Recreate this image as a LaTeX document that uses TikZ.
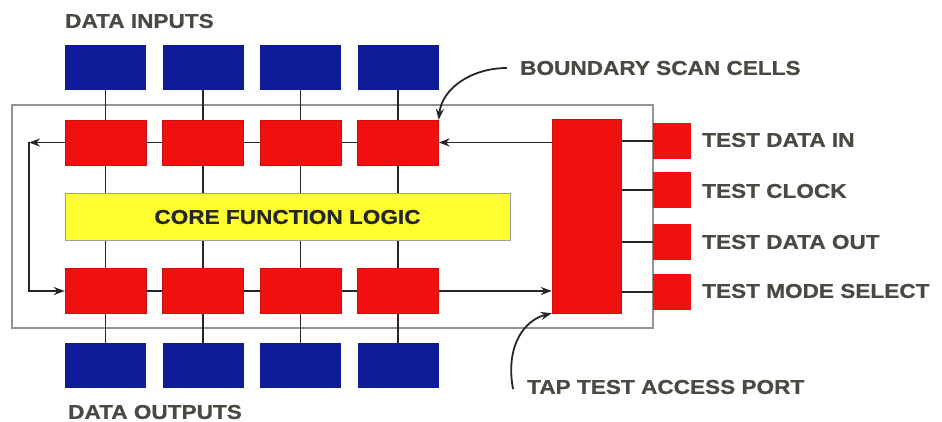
\documentclass[tikz,border=0pt]{standalone}
\usepackage{fontspec}
\newfontfamily\labfont[FakeStretch=1.13,FakeBold=0.7]{Liberation Sans}
\usetikzlibrary{arrows.meta}
\definecolor{navy}{HTML}{0E1C9A}
\definecolor{cellred}{HTML}{F01010}
\definecolor{coreyel}{HTML}{FFFF30}
\definecolor{txtgray}{HTML}{4A4A42}
\definecolor{wire}{HTML}{262626}
\tikzset{
  pin/.style={draw=none, fill=navy, minimum width=81pt, minimum height=45pt, inner sep=0pt},
  cell/.style={draw=cellred!85!black, line width=0.4pt, fill=cellred, minimum width=81pt, minimum height=45pt, inner sep=0pt},
  tpin/.style={draw=none, fill=cellred, minimum width=38pt, minimum height=36pt, inner sep=0pt},
  wireline/.style={draw=wire, line width=1.8pt},
  arr/.style={wireline, -{Stealth[length=11pt,width=8pt]}},
  lab/.style={text=txtgray, font=\labfont\bfseries\fontsize{20}{24}\selectfont, inner sep=0pt, anchor=west},
}
\begin{document}
\begin{tikzpicture}[x=1pt,y=-1pt]
\useasboundingbox (0,0) rectangle (942,422);
\fill[white] (0,0) rectangle (942,422);
% outer chip outline
\node[draw=gray!85, line width=1.2pt, minimum width=641pt, minimum height=223pt, inner sep=0pt] (chip) at (332.5,216.5) {};
% core
\node[draw=gray!75, line width=1pt, fill=coreyel, minimum width=445pt, minimum height=46pt, inner sep=0pt,
      text=black!85, font=\labfont\bfseries\fontsize{20}{24}\selectfont] (core) at (287.5,217) {CORE FUNCTION LOGIC};
% TAP
\node[cell, minimum width=69pt, minimum height=194pt] (tap) at (586.5,216) {};
% columns
\foreach \i/\x in {1/105.5,2/203,3/300.5,4/398}{
  \node[pin] (in\i) at (\x,67.5) {};
  \node[cell] (tc\i) at (\x,142.5) {};
  \node[cell] (bc\i) at (\x,291) {};
  \node[pin] (out\i) at (\x,365.5) {};
  \draw[wireline] (in\i.south) -- (tc\i.north);
  \draw[wireline] (tc\i.south) -- (core.north -| tc\i.south);
  \draw[wireline] (core.south -| bc\i.north) -- (bc\i.north);
  \draw[wireline] (bc\i.south) -- (out\i.north);
}
\foreach \a/\b in {1/2,2/3,3/4}{
  \draw[wireline] (tc\a.east) -- (tc\b.west);
  \draw[wireline] (bc\a.east) -- (bc\b.west);
}
% feedback loop on the left
\coordinate (fb1) at (29,142.5);
\coordinate (fb2) at (29,291);
\draw[arr] (tc1.west) -- (fb1);
\draw[arr] (fb1) -- (fb2) -- (bc1.west);
% TAP connections
\draw[arr] (tap.west |- tc4.east) -- (tc4.east);
\draw[arr] (bc4.east) -- (tap.west |- bc4.east);
% test pins
\node[tpin] (tdi) at (672,141) {};
\node[tpin] (tck) at (672,190) {};
\node[tpin] (tdo) at (672,242) {};
\node[tpin] (tms) at (672,292) {};
\foreach \p in {tdi,tck,tdo,tms}{
  \draw[wireline] (tap.east |- \p.west) -- (\p.west);
}
% labels
\node[lab] (lin) at (65,21) {DATA INPUTS};
\node[lab] (lout) at (68,412) {DATA OUTPUTS};
\node[lab] (lbsc) at (520,68) {BOUNDARY SCAN CELLS};
\node[lab] (ltap) at (527,387) {TAP TEST ACCESS PORT};
\node[lab] (ltdi) at (702,140) {TEST DATA IN};
\node[lab] (ltck) at (702,191) {TEST CLOCK};
\node[lab] (ltdo) at (702,242) {TEST DATA OUT};
\node[lab] (ltms) at (702,291) {TEST MODE SELECT};
% pointer arrows
\draw[arr, line width=1.8pt] ([xshift=-13pt]lbsc.west) .. controls +(-35,0) and (442,88) .. (tc4.north east);
\draw[arr, line width=1.8pt] ([xshift=-14pt,yshift=-2pt]ltap.west) .. controls (505,345) and (525,320) .. (tap.south west);
\end{tikzpicture}
\end{document}
